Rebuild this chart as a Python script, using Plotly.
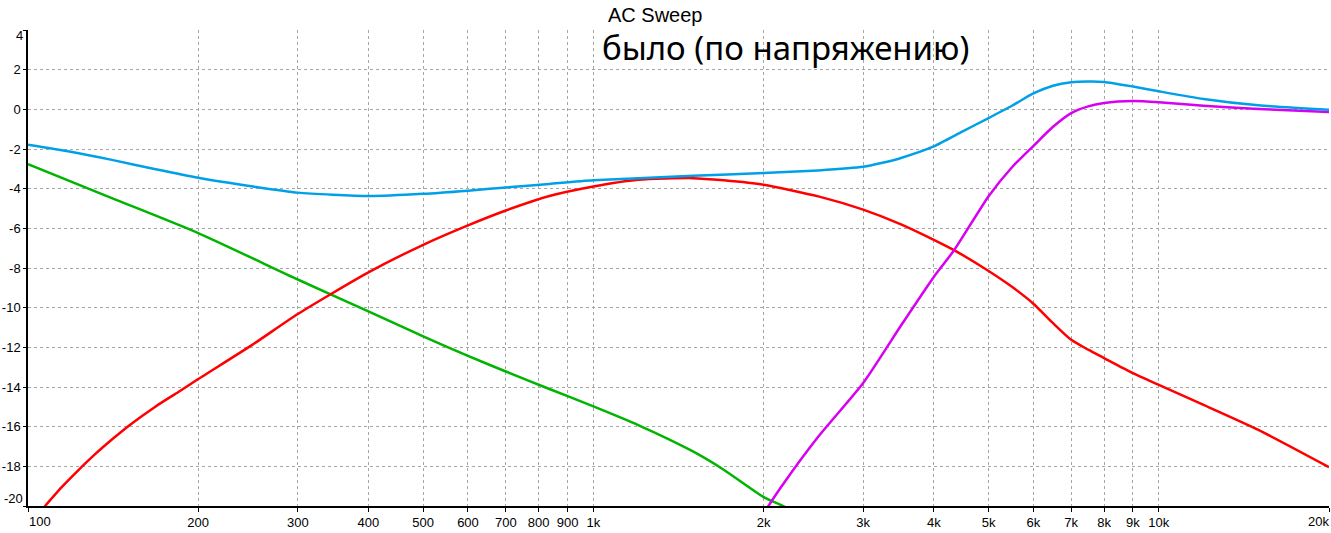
import plotly.graph_objects as go

# Frequencies (Hz) and responses (dB)
blue_f = [100, 118.9, 141.4, 168.2, 200, 250, 300, 400, 500, 600, 700, 836, 1000, 1500, 2000, 2500, 3000, 3230, 3500, 4000, 4500, 5000, 5500, 6000, 6500, 7000, 7500, 8000, 9000, 10000, 12000, 15000, 20000]
blue_v = [-1.79, -2.14, -2.56, -3.02, -3.45, -3.89, -4.20, -4.37, -4.26, -4.10, -3.94, -3.76, -3.58, -3.35, -3.21, -3.08, -2.90, -2.71, -2.45, -1.87, -1.11, -0.44, 0.18, 0.80, 1.19, 1.36, 1.40, 1.38, 1.15, 0.91, 0.52, 0.20, -0.02]

green_f = [100, 141.4, 200, 300, 400, 500, 600, 700, 836, 1000, 1200, 1500, 1700, 2000, 2200, 2350]
green_v = [-2.76, -4.50, -6.24, -8.58, -10.19, -11.45, -12.43, -13.22, -14.10, -14.98, -15.92, -17.25, -18.17, -19.55, -20.10, -20.80]

red_f = [100, 107.2, 114.7, 122.7, 131.3, 141.4, 150.8, 168.2, 184.5, 200, 250, 300, 400, 500, 600, 700, 836, 1000, 1200, 1500, 1700, 2000, 2500, 3000, 3500, 4000, 4350, 5000, 5500, 6000, 6500, 7000, 7500, 8000, 9000, 10000, 12000, 15000, 20000]
red_v = [-21.0, -20.0, -19.05, -18.20, -17.40, -16.60, -15.95, -14.98, -14.25, -13.60, -11.85, -10.32, -8.22, -6.83, -5.85, -5.10, -4.37, -3.89, -3.55, -3.47, -3.58, -3.80, -4.39, -5.06, -5.80, -6.58, -7.11, -8.15, -8.95, -9.80, -10.78, -11.62, -12.12, -12.54, -13.30, -13.89, -14.90, -16.16, -18.04]

magenta_f = [1950, 2040, 2190, 2500, 3000, 3500, 4000, 4350, 5000, 5500, 6000, 6500, 7000, 7500, 8000, 9000, 10000, 12000, 15000, 20000]
magenta_v = [-21.0, -20.0, -18.70, -16.50, -13.80, -10.90, -8.45, -7.08, -4.38, -2.92, -1.85, -0.88, -0.19, 0.15, 0.32, 0.42, 0.36, 0.18, 0.02, -0.14]

x_tick_vals = [100, 200, 300, 400, 500, 600, 700, 800, 900, 1000, 2000, 3000, 4000, 5000, 6000, 7000, 8000, 9000, 10000, 20000]
x_tick_text = ["100", "200", "300", "400", "500", "600", "700", "800", "900", "1k", "2k", "3k", "4k", "5k", "6k", "7k", "8k", "9k", "10k", "20k"]
y_tick_vals = [-20, -18, -16, -14, -12, -10, -8, -6, -4, -2, 0, 2, 4]
y_tick_text = [str(v) for v in y_tick_vals]

title_text = "AC Sweep"
note_text = "было (по напряжению)"

# plot-area geometry (pixels) used to place the edge labels
L, R, T, B = 28, 2, 30, 27
W, H = 1331, 533
PW, PH = W - L - R, H - T - B

def px_x(px):
    return (px - L) / PW

def px_y(py):
    return (H - B - py) / PH

fig = go.Figure()
for f, v, c in [(green_f, green_v, "#00b400"), (red_f, red_v, "#ff0000"),
                (magenta_f, magenta_v, "#d800f0"), (blue_f, blue_v, "#00a0e8")]:
    fig.add_trace(go.Scatter(x=f, y=v, mode="lines",
                             line=dict(color=c, width=2.5, shape="spline", smoothing=0.6),
                             showlegend=False, hoverinfo="skip"))

# edge labels are drawn as annotations (shifted inward like the original)
edge_x = {x_tick_vals[0], x_tick_vals[-1]}
edge_y = {y_tick_vals[0], y_tick_vals[-1]}
xt_text = ["" if v in edge_x else t for v, t in zip(x_tick_vals, x_tick_text)]
yt_text = ["" if v in edge_y else t for v, t in zip(y_tick_vals, y_tick_text)]

grid = dict(showgrid=True, gridcolor="#a6a6a6", gridwidth=1, griddash="3px,3px")
tick_font = dict(family="Liberation Sans", size=13, color="black")
fig.update_xaxes(type="log", range=[2, 4.30103], tickvals=x_tick_vals, ticktext=xt_text,
                 showline=True, linecolor="black", linewidth=1.5, ticks="outside", ticklen=4,
                 tickcolor="black", zeroline=False, automargin=False, tickfont=tick_font, **grid)
fig.update_yaxes(range=[-20, 4], tickvals=y_tick_vals, ticktext=yt_text, showline=True,
                 linecolor="black", linewidth=1.5, ticks="outside", ticklen=3, tickcolor="black",
                 zeroline=False, automargin=False, tickfont=tick_font, **grid)

common = dict(xref="paper", yref="paper", showarrow=False, font=tick_font)
fig.add_annotation(text=x_tick_text[0], x=px_x(27), y=px_y(521), xanchor="left", yanchor="middle", **common)
fig.add_annotation(text=x_tick_text[-1], x=px_x(1331), y=px_y(521), xanchor="right", yanchor="middle", **common)
fig.add_annotation(text=y_tick_text[-1], x=px_x(25), y=px_y(36), xanchor="right", yanchor="middle", **common)
fig.add_annotation(text=y_tick_text[0], x=px_x(25), y=px_y(498), xanchor="right", yanchor="middle", **common)

fig.add_annotation(text=title_text, xref="paper", yref="paper", x=px_x(655.5), y=px_y(15),
                   xanchor="center", yanchor="middle", showarrow=False,
                   font=dict(family="Liberation Sans", size=20, color="black"))
fig.add_annotation(text=note_text, xref="paper", yref="paper", x=px_x(600), y=px_y(48),
                   xanchor="left", yanchor="middle", showarrow=False,
                   font=dict(family="Noto Sans", size=33, color="black"))

fig.update_layout(width=W, height=H, margin=dict(l=L, r=R, t=T, b=B, pad=0),
                  paper_bgcolor="white", plot_bgcolor="white")
fig.write_html("out.html", config={"displayModeBar": False},
               post_script="document.body.style.margin='0';document.body.style.overflow='hidden';")
